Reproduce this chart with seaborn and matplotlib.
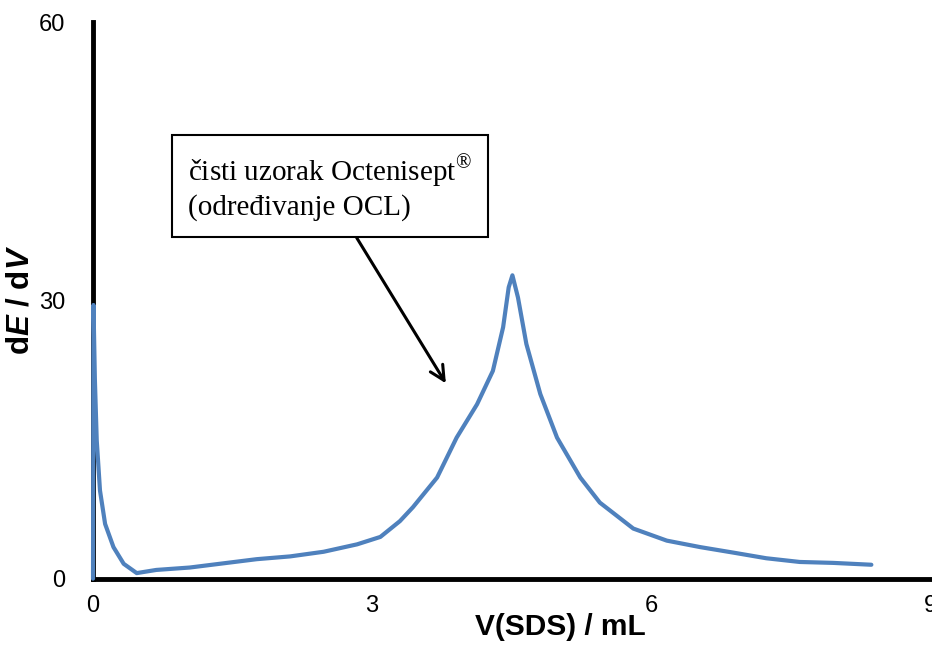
import pandas as pd
import seaborn as sns
import matplotlib.pyplot as plt

# titration derivative curve
v_sds = [0.0, 0.005, 0.02, 0.04, 0.075, 0.13, 0.22, 0.33, 0.47, 0.68,
         1.04, 1.40, 1.76, 2.12, 2.48, 2.84, 3.09, 3.30, 3.44, 3.70,
         3.91, 4.13, 4.30, 4.41, 4.47, 4.51, 4.57, 4.66, 4.81, 4.99,
         5.24, 5.45, 5.81, 6.17, 6.53, 6.89, 7.24, 7.60, 7.96, 8.37]
de_dv = [0.0, 29.5, 21.5, 14.9, 9.5, 5.9, 3.4, 1.6, 0.6, 0.94,
         1.2, 1.65, 2.1, 2.4, 2.9, 3.7, 4.5, 6.2, 7.7, 10.9,
         15.2, 18.8, 22.4, 27.1, 31.4, 32.7, 30.3, 25.3, 19.9, 15.2,
         10.9, 8.2, 5.4, 4.1, 3.4, 2.8, 2.2, 1.8, 1.7, 1.5]
x_ticks = [0, 3, 6, 9]
y_ticks = [0, 30, 60]
note = "čisti uzorak Octenisept$^{®}$\n(određivanje OCL)"

df = pd.DataFrame({'V': v_sds, 'dEdV': de_dv})

sns.set_style('white')
plt.rcParams['font.family'] = ['Liberation Sans', 'DejaVu Sans']
plt.rcParams['text.color'] = 'black'
plt.rcParams['axes.labelcolor'] = 'black'
plt.rcParams['mathtext.fontset'] = 'custom'
plt.rcParams['mathtext.rm'] = 'Liberation Serif'
plt.rcParams['mathtext.bfit'] = 'Liberation Sans:bold:italic'

fig = plt.figure(figsize=(9.32, 6.48), dpi=100)
ax = fig.add_axes([0.0998, 0.107, 0.898, 0.859])

sns.lineplot(x='V', y='dEdV', data=df, sort=False, color='#4F81BD',
             linewidth=3, ax=ax, zorder=5, clip_on=False)

ax.set_xlim(0, 9)
ax.set_ylim(0, 60)
ax.set_xticks(x_ticks)
ax.set_yticks(y_ticks)
ax.tick_params(axis='both', direction='out', length=6, width=3,
               labelsize=17, colors='black')
ax.tick_params(axis='y', pad=14)
ax.tick_params(axis='x', pad=6)

for s in ['top', 'right']:
    ax.spines[s].set_visible(False)
for s in ['left', 'bottom']:
    ax.spines[s].set_linewidth(3.5)
    ax.spines[s].set_color('black')

ax.set_xlabel('V(SDS) / mL', fontsize=21.5, fontweight='bold')
ax.xaxis.set_label_coords(0.558, -0.062)
ax.set_ylabel('d$\\boldsymbol{E}$ / d$\\boldsymbol{V}$', fontsize=22.5,
              fontweight='bold')
ax.yaxis.set_label_coords(-0.069, 0.5)

ax.annotate('', xy=(3.81, 20.8), xytext=(2.82, 37.0),
            arrowprops=dict(arrowstyle='->', color='black', lw=2.2,
                            mutation_scale=26))
ax.text(1.02, 42.2, note, fontsize=21,
        family=['Liberation Serif', 'DejaVu Serif'],
        va='center', ha='left', linespacing=1.2,
        bbox=dict(boxstyle='square,pad=0.55', facecolor='white',
                  edgecolor='black', linewidth=1.5))

fig.savefig('out.png', dpi=100)
